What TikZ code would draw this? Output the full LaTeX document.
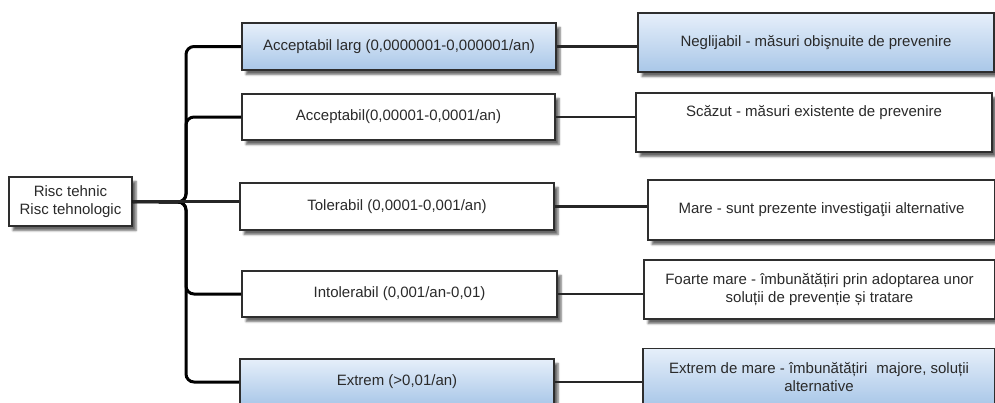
\documentclass[tikz,border=0pt]{standalone}
\usepackage{fontspec}
\setmainfont{Liberation Sans}
\usetikzlibrary{shadows.blur}
\definecolor{boxline}{HTML}{2E2E2E}
\definecolor{txt}{HTML}{2A2A2A}
\definecolor{bluetop}{HTML}{E6EFFA}
\definecolor{bluebot}{HTML}{A9C7E8}
\tikzset{
  box/.style={draw=boxline, line width=1.8pt, fill=white, align=center,
    text=txt, font=\fontsize{15}{17.5}\selectfont, inner sep=0pt,
    blur shadow={shadow xshift=4pt, shadow yshift=-4.5pt,
      shadow blur radius=2pt, shadow blur steps=5, shadow opacity=60}},
  bluebox/.style={box, top color=bluetop, bottom color=bluebot},
  trunk/.style={line width=3pt, black, rounded corners=8pt},
  link/.style={line width=2.2pt, black!85}
}
\begin{document}
\begin{tikzpicture}[x=1pt, y=-1pt]
\useasboundingbox (0,0) rectangle (995,402);

% root
\node[box, minimum width=123pt, minimum height=49pt] (root) at (70.5,201.5)
  {Risc tehnic\\Risc tehnologic};

% risk levels
\node[bluebox, minimum width=314pt, minimum height=47pt] (m1) at (399,46.5)
  {Acceptabil larg (0,0000001-0,000001/an)};
\node[box, minimum width=313pt, minimum height=46pt] (m2) at (398.5,117)
  {Acceptabil(0,00001-0,0001/an)};
\node[box, minimum width=314pt, minimum height=47pt] (m3) at (397,206.5)
  {Tolerabil (0,0001-0,001/an)};
\node[box, minimum width=315pt, minimum height=46pt] (m4) at (399.5,294)
  {Intolerabil (0,001/an-0,01)};
\node[bluebox, minimum width=314pt, minimum height=46pt] (m5) at (397,382)
  {Extrem (>0,01/an)};

% consequences
\node[bluebox, minimum width=356pt, minimum height=59pt] (r1) at (816,42.5)
  {Neglijabil - măsuri obişnuite de prevenire};
\node[box, minimum width=356pt, minimum height=59pt] (r2) at (814,122.5)
  {Scăzut - măsuri existente de prevenire\\[1pt]\strut};
\node[box, minimum width=347pt, minimum height=60pt] (r3) at (821.5,210)
  {Mare - sunt prezente investigaţii alternative};
\node[box, minimum width=351pt, minimum height=59pt] (r4) at (819.5,289.5)
  {Foarte mare - îmbunătățiri prin adoptarea unor\\soluții de prevenție și tratare};
\node[bluebox, minimum width=352pt, minimum height=57pt] (r5) at (819,377)
  {Extrem de mare - îmbunătățiri\hspace{0.6em}majore, soluții\\alternative};

% branching tree
\coordinate (j) at (186,202);
\draw[trunk] (m1.west) -| (j) -- (root.east);
\draw[trunk] (m2.west) -| (j) -- (root.east);
\draw[trunk] (m4.west) -| (j) -- (root.east);
\draw[trunk] (m5.west) -| (j) -- (root.east);
\draw[link] (root.east) -- (m3.west |- root.east);

% level to consequence
\foreach \a/\b in {m1/r1, m2/r2, m3/r3, m4/r4, m5/r5}
  \draw[link] (\a.east) -- (\b.west |- \a.east);
\end{tikzpicture}
\end{document}
